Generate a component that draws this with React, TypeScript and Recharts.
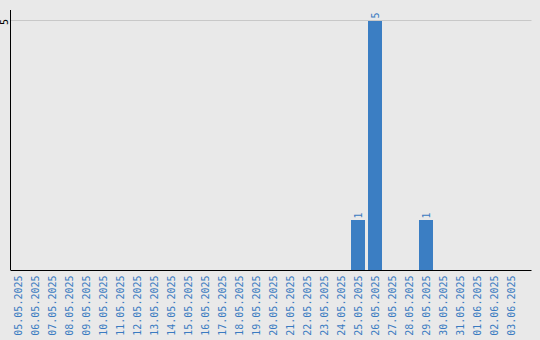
import React from "react";
import { BarChart, Bar, XAxis, YAxis, ReferenceLine, LabelList } from "recharts";

const days: string[] = [
  "05.05.2025", "06.05.2025", "07.05.2025", "08.05.2025", "09.05.2025",
  "10.05.2025", "11.05.2025", "12.05.2025", "13.05.2025", "14.05.2025",
  "15.05.2025", "16.05.2025", "17.05.2025", "18.05.2025", "19.05.2025",
  "20.05.2025", "21.05.2025", "22.05.2025", "23.05.2025", "24.05.2025",
  "25.05.2025", "26.05.2025", "27.05.2025", "28.05.2025", "29.05.2025",
  "30.05.2025", "31.05.2025", "01.06.2025", "02.06.2025", "03.06.2025",
];

const counts: number[] = [
  0, 0, 0, 0, 0, 0, 0, 0, 0, 0,
  0, 0, 0, 0, 0, 0, 0, 0, 0, 0,
  1, 5, 0, 0, 1, 0, 0, 0, 0, 0,
];

const yTicks: number[] = [5];

const rows = days.map((day, i) => ({ day, count: counts[i] }));

const FONT = "'DejaVu Sans Mono', monospace";
const BLUE_TEXT = "#3a7bc1";
const BAR_BLUE = "#3b7ec3";

function DayTick(props: any) {
  const { x, y, payload } = props;
  const ax = x + 4;
  const ay = y + 5.5;
  return (
    <text
      x={ax}
      y={ay}
      transform={`rotate(-90, ${ax}, ${ay})`}
      textAnchor="end"
      fontFamily={FONT}
      fontSize={10}
      fill={BLUE_TEXT}
    >
      {payload.value}
    </text>
  );
}

function CountTick(props: any) {
  const { y, payload } = props;
  const ax = 8;
  const ay = y + 2;
  return (
    <text
      x={ax}
      y={ay}
      transform={`rotate(-90, ${ax}, ${ay})`}
      textAnchor="middle"
      fontFamily={FONT}
      fontSize={10}
      fill="#000"
    >
      {payload.value}
    </text>
  );
}

function ValueLabel(props: any) {
  const { x, y, width, value } = props;
  if (!value) return null;
  const ax = x + width / 2 + 4;
  const ay = y - 1.5;
  return (
    <text
      x={ax}
      y={ay}
      transform={`rotate(-90, ${ax}, ${ay})`}
      textAnchor="start"
      fontFamily={FONT}
      fontSize={10}
      fill={BLUE_TEXT}
    >
      {value}
    </text>
  );
}

export default function App() {
  return (
    <div
      style={{
        position: "absolute",
        left: 0,
        top: 0,
        width: 540,
        height: 340,
        background: "#e9e9e9",
      }}
    >
      <BarChart
        width={540}
        height={340}
        data={rows}
        margin={{ top: 10, right: 10, bottom: 0, left: 0 }}
      >
        {yTicks.map((t) => (
          <ReferenceLine
            key={t}
            y={t}
            stroke="#c8c8c8"
            strokeWidth={1}
            transform="translate(1.5, 0.5)"
          />
        ))}
        <XAxis
          dataKey="day"
          type="category"
          interval={0}
          height={70}
          padding={{ left: 0, right: 11 }}
          tickLine={false}
          tickSize={0}
          tickMargin={0}
          axisLine={{ stroke: "#000", strokeWidth: 1, transform: "translate(1.5, 0.5)" }}
          tick={<DayTick />}
        />
        <YAxis
          type="number"
          width={9}
          domain={[0, 5.2]}
          ticks={yTicks}
          tickLine={false}
          tickSize={0}
          tickMargin={0}
          axisLine={{ stroke: "#000", strokeWidth: 1, transform: "translate(1.5, 0)" }}
          tick={<CountTick />}
        />
        <Bar dataKey="count" fill={BAR_BLUE} barSize={14} isAnimationActive={false}>
          <LabelList dataKey="count" content={<ValueLabel />} />
        </Bar>
      </BarChart>
    </div>
  );
}
